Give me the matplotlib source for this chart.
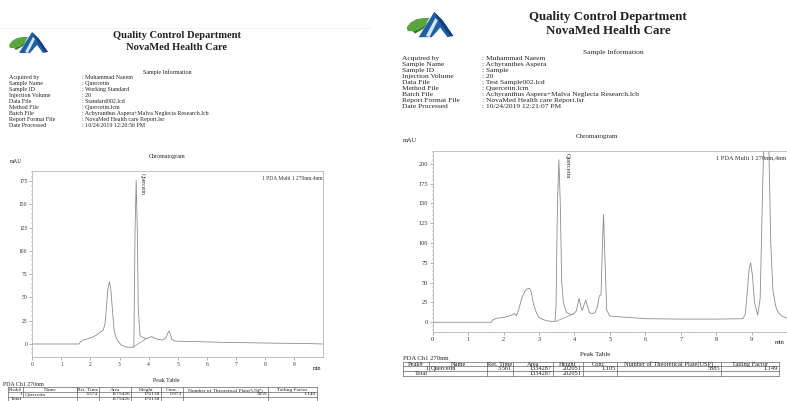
import matplotlib
matplotlib.use("Agg")
import matplotlib.pyplot as plt
from matplotlib.lines import Line2D
from matplotlib.patches import Polygon
from matplotlib.ticker import MultipleLocator

plt.rcParams['font.family'] = ['Liberation Serif', 'DejaVu Serif']

W, H = 787, 401

# ---- data read from the two reports ----
info_labels = ["Acquired by", "Sample Name", "Sample ID", "Injection Volume", "Data File",
               "Method File", "Batch File", "Report Format File", "Date Processed"]
left_info = [": Muhammad Naeem", ": Quercetin", ": Working Standard", ": 20", ": Standard002.lcd",
             ": Quercetin.lcm", ": Achyranthus Aspera+Malva Neglecta Research.lcb",
             ": NovaMed Health care Report.lsr", ": 10/24/2019 12:20:56 PM"]
right_info = [": Muhammad Naeem", ": Achyranthes Aspera", ": Sample", ": 20", ": Test Sample002.lcd",
              ": Quercetin.lcm", ": Achyranthus Aspera+Malva Neglecta Research.lcb",
              ": NovaMed Health care Report.lsr", ": 10/24/2019 12:21:07 PM"]

left_time = [0, 1.6, 1.65, 1.75, 1.9, 2.04, 2.2, 2.33, 2.44, 2.5, 2.55, 2.6, 2.65, 2.7, 2.75,
             2.81, 2.88, 2.96, 3.05, 3.19, 3.3, 3.45, 3.49, 3.53, 3.57, 3.61, 3.64, 3.7, 3.8,
             3.9, 4.0, 4.1, 4.18, 4.27, 4.4, 4.5, 4.6, 4.66, 4.70, 4.74, 4.79, 4.88, 4.96,
             5.65, 6.5, 7.5, 8.5, 9.5, 10.0]
left_mau = [0, 0, 2, 4.3, 5.5, 6.8, 9.5, 12.6, 15, 22, 40, 60, 67, 58, 38,
            15, 7, 2.5, -1, -3, -3.5, -3.6, -3, 120, 176, 120, 40, 9, 7,
            6, 6.5, 8, 6.5, 5.4, 4.5, 4.5, 7, 12, 14, 11, 5, 3.3, 3,
            2.5, 1.8, 1.3, 0.8, 0.4, 0]
left_base_t = [3.47, 3.93]
left_base_y = [-3.3, 6]

right_time = [0, 1.65, 1.7, 1.8, 2.0, 2.23, 2.3, 2.36, 2.42, 2.51, 2.6, 2.66, 2.73, 2.78,
              2.84, 2.91, 2.98, 3.1, 3.22, 3.35, 3.45, 3.48, 3.52, 3.56, 3.6, 3.64, 3.69,
              3.78, 3.9, 3.97, 4.05, 4.13, 4.18, 4.22, 4.27, 4.32, 4.37, 4.42, 4.5, 4.58,
              4.65, 4.70, 4.75, 4.79, 4.82, 4.86, 4.91, 5.0, 5.2, 5.57, 6.0, 7.0, 8.0,
              8.75, 8.82, 8.88, 8.93, 8.97, 9.02, 9.08, 9.17, 9.24, 9.3, 9.36, 9.42, 9.48,
              9.54, 9.6, 9.68, 9.75, 9.85, 10.0]
right_mau = [0, 0, 3, 5, 6, 9, 11, 8, 15, 30, 39, 42, 43, 38,
             24, 14, 7, 3.5, 2, 1, 1, 20, 150, 205, 150, 50, 24,
             12, 10, 10.5, 14, 30, 20, 15, 22, 28, 20, 12, 11, 12,
             20, 33, 35, 100, 136, 80, 15, 8, 7, 6, 4.5, 4, 4,
             4.5, 10, 40, 68, 75, 60, 25, 9, 30, 150, 260, 280, 230,
             100, 40, 20, 12, 8, 5]
right_base_t = [3.47, 3.97]
right_base_y = [1, 10.5]

table_cols = ["Peak#", "Name", "Ret. Time", "Area", "Height", "Conc.",
              "Number of Theoretical Plate(USP)", "Tailing Factor"]
left_row = ["1", "Quercetin", "3.574", "1175426", "176138", "0.973", "5959", "1.140"]
left_total = ["Total", "", "", "1175426", "176138", "", "", ""]
right_row = ["1", "Quercetin", "3.561", "1334287", "202051", "1.105", "5885", "1.149"]
right_total = ["Total", "", "", "1334287", "202051", "", "", ""]

fig = plt.figure(figsize=(W / 100, H / 100), dpi=100)
fig.patch.set_facecolor("white")


def fx(x):
    return x / W


def fy(y):
    return 1 - y / H


def txt(x, y, s, size, **kw):
    kw.setdefault("va", "center")
    fig.text(fx(x), fy(y), s, fontsize=size, color="#222222", **kw)


def hline(x0, x1, y, lw=0.5, color="#555555"):
    fig.add_artist(Line2D([fx(x0), fx(x1)], [fy(y), fy(y)], transform=fig.transFigure,
                          color=color, lw=lw))


def vline(x, y0, y1, lw=0.5, color="#555555"):
    fig.add_artist(Line2D([fx(x), fx(x)], [fy(y0), fy(y1)], transform=fig.transFigure,
                          color=color, lw=lw))


def shape(x, y, s, pts, color):
    fig.add_artist(Polygon([(fx(x + a * s), fy(y + b * s)) for a, b in pts],
                           closed=True, transform=fig.transFigure, color=color, lw=0))


def logo(x, y, s):
    # blue roof with green leaf, (x, y) = top-left in pixels
    shape(x, y, s, [(18, 21), (31, 0), (38, 7), (47, 20), (42, 21), (36, 13), (29, 21)], "#1f5fa8")
    shape(x, y, s, [(24, 20), (32, 5), (34, 7), (27, 21)], "#d6e4f2")
    shape(x, y, s, [(31, 0), (38, 7), (47, 20), (44, 20), (36, 9)], "#153f7a")
    shape(x, y, s, [(8, 13), (11, 9), (16, 6), (22, 5), (27, 5), (24, 10), (19, 14),
                    (13, 16), (9, 16)], "#5aa63c")
    shape(x, y, s, [(13, 16), (19, 14), (24, 10), (26, 8), (22, 14), (15, 18)], "#2f7d2a")


def header(cx, ty, size, lx, vx, iy, isize, values):
    txt(cx, ty, "Quality Control Department", size, ha="center", weight="bold")
    txt(cx, ty + size * 1.5, "NovaMed Health Care", size, ha="center", weight="bold")
    for i, (lab, val) in enumerate(zip(info_labels, values)):
        txt(lx, iy + i * 6.0, lab, isize)
        txt(vx, iy + i * 6.0, val, isize)


def chrom(box, xlim, ylim, yticks, t, y, bt, by, tsize, label_xy):
    x0, y0, x1, y1 = box
    ax = fig.add_axes([fx(x0), fy(y1), (x1 - x0) / W, (y1 - y0) / H])
    ax.plot(t, y, color="#8c8c8c", lw=0.6)
    ax.plot(bt, by, color="#8c8c8c", lw=0.5)
    ax.set_xlim(*xlim)
    ax.set_ylim(*ylim)
    ax.set_xticks(range(0, 10))
    ax.set_yticks(yticks)
    ax.xaxis.set_minor_locator(MultipleLocator(0.2))
    ax.yaxis.set_minor_locator(MultipleLocator(5))
    ax.tick_params(which="major", length=2, width=0.4, color="#777777",
                   labelsize=tsize, pad=1.5, labelcolor="#333333")
    ax.tick_params(which="minor", length=1, width=0.3, color="#777777")
    for sp in ax.spines.values():
        sp.set_color("#aaaaaa")
        sp.set_linewidth(0.5)
    ax.text(0.998, 0.975, "1 PDA Multi 1 270nm,4nm", transform=ax.transAxes,
            ha="right", va="top", fontsize=tsize, color="#333333")
    ax.text(label_xy[0], label_xy[1], "Quercetin", rotation=270, ha="center", va="top",
            fontsize=tsize, color="#333333")
    return ax


def table(edges, top, rh, size, rows):
    nrow = len(rows) + 1
    for r in range(nrow + 1):
        hline(edges[0], edges[-1], top + r * rh, lw=0.45)
    for i, e in enumerate(edges):
        if i == 1:
            vline(e, top, top + 2 * rh, lw=0.45)
        else:
            vline(e, top, top + nrow * rh, lw=0.45)
    for j, c in enumerate(table_cols):
        txt((edges[j] + edges[j + 1]) / 2, top + rh / 2, c, size, ha="center")
    for i, row in enumerate(rows):
        yy = top + (i + 1.5) * rh
        for j, v in enumerate(row):
            if not v:
                continue
            if j == 1:
                txt(edges[j] + 1, yy, v, size, ha="left")
            elif i == len(rows) - 1 and j == 0:
                txt(edges[1] - 1, yy, v, size, ha="right")
            else:
                txt(edges[j + 1] - 1, yy, v, size, ha="right")


# ---- left report ----
hline(0, 370, 28, lw=0.5, color="#eeeeee")
logo(1, 32, 1.0)
header(177, 36, 7.6, 9, 82, 77.7, 4.3, left_info)
txt(167, 72, "Sample Information", 4.3, ha="center")
txt(167, 157, "Chromatogram", 4.3, ha="center")
txt(10, 162, "mAU", 4.0)
chrom((32.3, 171, 323, 357), (0, 9.99), (-14, 186), range(0, 176, 25),
      left_time, left_mau, left_base_t, left_base_y, 4.0, (3.77, 184))
txt(313, 368, "min", 4.0)
txt(166, 380, "Peak Table", 4.3, ha="center")
txt(3, 385, "PDA Ch1 270nm", 4.2)
table([8.3, 23.3, 76.7, 98.7, 131, 160.7, 182.7, 268.3, 316.7], 387.3, 4.6, 3.9,
      [left_row, left_total])

# ---- right report ----
logo(397, 12, 1.2)
header(608, 17, 9.3, 402, 482, 58.3, 5.4, right_info)
txt(613, 52, "Sample Information", 5.4, ha="center")
txt(597, 137, "Chromatogram", 5.0, ha="center")
txt(403, 141, "mAU", 4.6)
chrom((432.7, 151, 787.1, 331.7), (0, 10.0), (-11.9, 216), range(0, 201, 25),
      right_time, right_mau, right_base_t, right_base_y, 4.6, (3.79, 214))
txt(775, 343, "min", 4.6)
txt(595, 355, "Peak Table", 5.0, ha="center")
txt(403, 359, "PDA Ch1 270nm", 4.8)
table([402.7, 429.3, 486.7, 513.3, 552.7, 582.7, 616.7, 720.7, 779.3], 361.7, 4.7, 4.6,
      [right_row, right_total])

fig.savefig("out.png", dpi=100)
